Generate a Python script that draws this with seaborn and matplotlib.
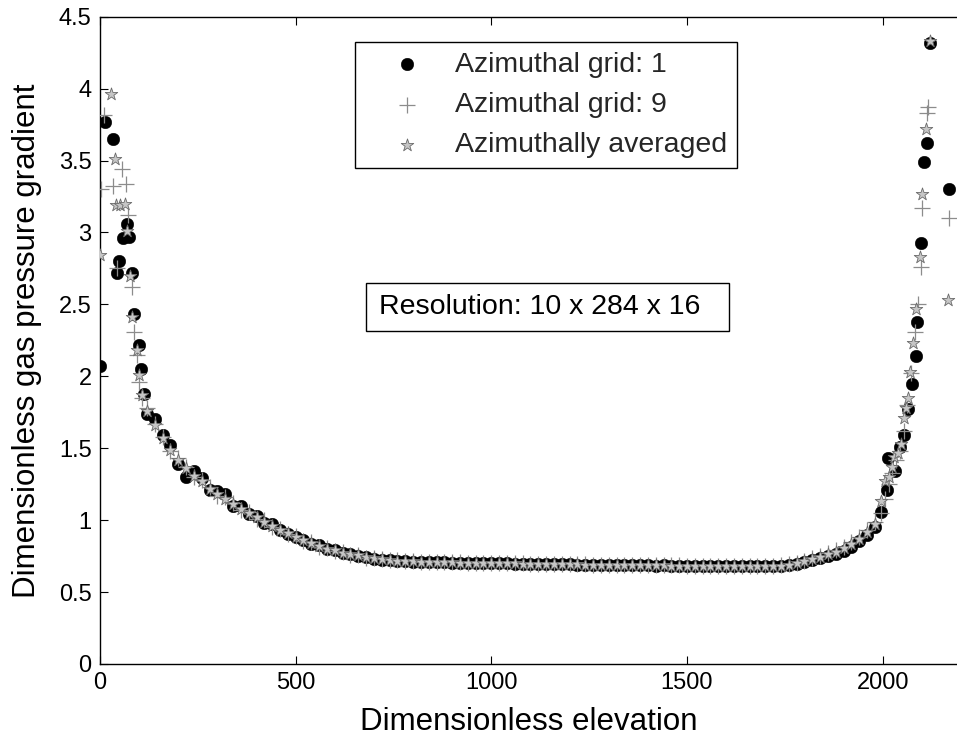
import matplotlib
matplotlib.use("Agg")
import matplotlib.pyplot as plt
from matplotlib.patches import Rectangle
import numpy as np
import pandas as pd
import seaborn as sns

# ---------------- data ----------------
legend_labels = ["Azimuthal grid: 1", "Azimuthal grid: 9", "Azimuthally averaged"]
x_ticks = [0, 500, 1000, 1500, 2000]
y_ticks = [0, 0.5, 1, 1.5, 2, 2.5, 3, 3.5, 4, 4.5]
y_tick_labels = ["0", "0.5", "1", "1.5", "2", "2.5", "3", "3.5", "4", "4.5"]

# lower boundary region
left_x_grid1 = [0, 13, 32, 44, 49, 60, 68, 74, 83, 88, 100, 104, 113]
left_grid1 = [2.07, 3.77, 3.65, 2.72, 2.80, 2.96, 3.06, 2.97, 2.72, 2.43, 2.22, 2.05, 1.88]
left_x_grid9 = [2, 10, 32, 43, 55, 66, 72, 81, 87, 94, 100, 108]
left_grid9 = [3.30, 3.82, 3.32, 2.75, 3.44, 3.34, 3.12, 2.62, 2.31, 2.15, 1.96, 1.85]
left_x_avg = [0, 27, 38, 40, 51, 64, 70, 77, 83, 95, 100, 108]
left_avg = [2.84, 3.96, 3.51, 3.19, 3.19, 3.20, 3.01, 2.70, 2.41, 2.18, 2.01, 1.87]

# interior region
mid_x = [120, 140, 160, 180, 200, 220, 240, 260, 280, 300,
         320, 340, 360, 380, 400, 420, 440, 460, 480, 500,
         520, 540, 560, 580, 600, 620, 640, 660, 680, 700,
         720, 740, 760, 780, 800, 820, 840, 860, 880, 900,
         920, 940, 960, 980, 1000, 1020, 1040, 1060, 1080, 1100,
         1120, 1140, 1160, 1180, 1200, 1220, 1240, 1260, 1280, 1300,
         1320, 1340, 1360, 1380, 1400, 1420, 1440, 1460, 1480, 1500,
         1520, 1540, 1560, 1580, 1600, 1620, 1640, 1660, 1680, 1700,
         1720, 1740, 1760, 1780, 1800, 1820, 1840, 1860, 1880, 1900,
         1920, 1940, 1960, 1980]
mid_grid1 = [1.74, 1.70, 1.59, 1.52, 1.39, 1.30, 1.34, 1.29, 1.21, 1.20,
             1.18, 1.10, 1.10, 1.04, 1.03, 0.98, 0.97, 0.93, 0.905, 0.88,
             0.865, 0.835, 0.825, 0.80, 0.79, 0.77, 0.765, 0.75, 0.745, 0.73,
             0.725, 0.72, 0.715, 0.716, 0.712, 0.710, 0.708, 0.707, 0.708, 0.704,
             0.705, 0.703, 0.704, 0.701, 0.700, 0.699, 0.701, 0.697, 0.698, 0.696,
             0.696, 0.694, 0.695, 0.692, 0.693, 0.690, 0.691, 0.689, 0.690, 0.688,
             0.688, 0.686, 0.687, 0.685, 0.686, 0.684, 0.685, 0.683, 0.684, 0.682,
             0.683, 0.681, 0.682, 0.680, 0.681, 0.679, 0.680, 0.679, 0.679, 0.678,
             0.679, 0.682, 0.688, 0.697, 0.708, 0.722, 0.738, 0.752, 0.768, 0.785,
             0.815, 0.855, 0.895, 0.955]
mid_grid9 = [1.78, 1.67, 1.58, 1.48, 1.43, 1.37, 1.30, 1.28, 1.23, 1.17,
             1.16, 1.12, 1.07, 1.06, 1.01, 1.00, 0.955, 0.94, 0.905, 0.89,
             0.855, 0.845, 0.815, 0.805, 0.785, 0.78, 0.76, 0.76, 0.74, 0.74,
             0.73, 0.725, 0.72, 0.716, 0.715, 0.712, 0.711, 0.709, 0.709, 0.707,
             0.706, 0.705, 0.704, 0.703, 0.702, 0.701, 0.700, 0.700, 0.699, 0.698,
             0.697, 0.696, 0.695, 0.695, 0.694, 0.693, 0.692, 0.691, 0.691, 0.690,
             0.689, 0.689, 0.688, 0.687, 0.687, 0.686, 0.686, 0.685, 0.685, 0.684,
             0.684, 0.683, 0.683, 0.682, 0.682, 0.681, 0.681, 0.681, 0.680, 0.680,
             0.681, 0.685, 0.693, 0.704, 0.718, 0.734, 0.752, 0.772, 0.792, 0.815,
             0.845, 0.88, 0.93, 0.99]
mid_avg = [1.76, 1.66, 1.57, 1.49, 1.42, 1.36, 1.31, 1.27, 1.22, 1.18,
           1.15, 1.11, 1.08, 1.05, 1.02, 0.99, 0.96, 0.935, 0.91, 0.885,
           0.86, 0.84, 0.82, 0.80, 0.79, 0.775, 0.765, 0.755, 0.745, 0.735,
           0.728, 0.722, 0.718, 0.715, 0.713, 0.711, 0.709, 0.708, 0.707, 0.706,
           0.705, 0.704, 0.703, 0.702, 0.701, 0.700, 0.700, 0.699, 0.698, 0.697,
           0.696, 0.695, 0.694, 0.694, 0.693, 0.692, 0.691, 0.690, 0.690, 0.689,
           0.688, 0.688, 0.687, 0.686, 0.686, 0.685, 0.685, 0.684, 0.684, 0.683,
           0.683, 0.682, 0.682, 0.681, 0.681, 0.680, 0.680, 0.680, 0.679, 0.679,
           0.680, 0.683, 0.690, 0.700, 0.713, 0.728, 0.745, 0.763, 0.782, 0.805,
           0.835, 0.870, 0.915, 0.975]

# upper boundary region
right_x_grid1 = [1997, 2010, 2014, 2031, 2044, 2054, 2065, 2075, 2084, 2089, 2098, 2106, 2114, 2122, 2170]
right_grid1 = [1.06, 1.21, 1.43, 1.34, 1.51, 1.59, 1.77, 1.95, 2.14, 2.38, 2.93, 3.49, 3.62, 4.32, 3.30]
right_x_grid9 = [1995, 2005, 2015, 2025, 2035, 2045, 2055, 2063, 2072, 2082, 2090, 2097, 2101, 2114, 2117, 2170]
right_grid9 = [1.05, 1.15, 1.25, 1.33, 1.42, 1.48, 1.62, 1.80, 2.02, 2.31, 2.50, 2.76, 3.17, 3.83, 3.87, 3.10]
right_x_avg = [1997, 2006, 2015, 2023, 2029, 2038, 2046, 2054, 2060, 2065, 2070, 2078, 2085, 2095, 2101, 2110, 2122, 2166]
right_avg = [1.13, 1.27, 1.30, 1.37, 1.44, 1.47, 1.53, 1.71, 1.78, 1.85, 2.03, 2.23, 2.47, 2.83, 3.27, 3.72, 4.33, 2.53]

# ---------------- assemble ----------------
df1 = pd.DataFrame({"x": left_x_grid1 + mid_x + right_x_grid1,
                    "y": left_grid1 + mid_grid1 + right_grid1})
df9 = pd.DataFrame({"x": left_x_grid9 + mid_x + right_x_grid9,
                    "y": left_grid9 + mid_grid9 + right_grid9})
dfa = pd.DataFrame({"x": left_x_avg + mid_x + right_x_avg,
                    "y": left_avg + mid_avg + right_avg})

sns.set_theme(style="white")
plt.rcParams["font.family"] = ["Liberation Sans", "DejaVu Sans"]

W, H = 957, 742
fig = plt.figure(figsize=(W / 100, H / 100), dpi=100)
ax = fig.add_axes([100 / W, (H - 664) / H, (W - 100) / W, (664 - 16.7) / H])

sns.scatterplot(data=df1, x="x", y="y", ax=ax, marker="o", s=82, color="black",
                edgecolor="black", linewidth=0.3, label=legend_labels[0], zorder=2)
sns.scatterplot(data=df9, x="x", y="y", ax=ax, marker="+", s=120, color="#8c8c8c",
                linewidth=0.9, label=legend_labels[1], zorder=3)
sns.scatterplot(data=dfa, x="x", y="y", ax=ax, marker="*", s=90, color="#c6c6c6",
                edgecolor="#6a6a6a", linewidth=0.6, label=legend_labels[2], zorder=4)

ax.set_xlim(0, 2190)
ax.set_ylim(0, 4.5)
ax.set_xticks(x_ticks)
ax.set_xticklabels([str(t) for t in x_ticks])
ax.set_yticks(y_ticks)
ax.set_yticklabels(y_tick_labels)
ax.tick_params(axis="both", direction="in", length=5.5, width=0.8, colors="black",
               labelsize=17, top=True, right=False, bottom=True, left=True)
ax.tick_params(axis="x", pad=6)
ax.tick_params(axis="y", pad=6)
for side in ["top", "left", "bottom"]:
    ax.spines[side].set_color("black")
    ax.spines[side].set_linewidth(1.0)
ax.spines["right"].set_visible(False)

ax.set_xlabel("Dimensionless elevation", fontsize=22.5, color="black", labelpad=9)
ax.set_ylabel("Dimensionless gas pressure gradient", fontsize=22.5, color="black", labelpad=12)

leg = ax.legend(loc="upper left", bbox_to_anchor=(355 / W, (H - 42) / H),
                bbox_transform=fig.transFigure, fontsize=20.5, frameon=True,
                fancybox=False, framealpha=1, borderpad=0.35, handlelength=2.95,
                handletextpad=0.2, labelspacing=0.5, borderaxespad=0)
leg.get_frame().set_edgecolor("black")
leg.get_frame().set_linewidth(1.0)

fig.add_artist(Rectangle((366 / W, (H - 331) / H), 363 / W, 48 / H,
                         transform=fig.transFigure, fill=False,
                         edgecolor="black", linewidth=1.0))
fig.text(540 / W, (H - 307) / H, "Resolution: 10 x 284 x 16", ha="center",
         va="center", fontsize=20.5, color="black")

fig.savefig("out.png", dpi=100)
